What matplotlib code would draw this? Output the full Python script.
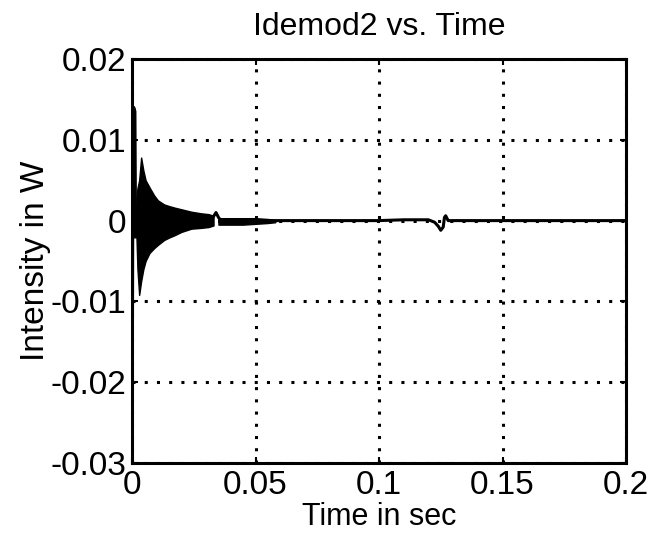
import matplotlib.pyplot as plt

# initial spike at the start of the record
spike_t = [0.0, 0.0003, 0.0006, 0.0011, 0.0013, 0.0016]
spike_v = [-0.026, 0.012, 0.0140, 0.0135, 0.002, -0.002]

# envelope of the dense decaying oscillation
env_t = [0.0018, 0.0022, 0.0029, 0.0037, 0.0046, 0.0055, 0.0071, 0.0090,
         0.0105, 0.0130, 0.0150, 0.0173, 0.0200, 0.0240, 0.0280, 0.0310, 0.0330]
env_hi = [0.0030, 0.0040, 0.0050, 0.0078, 0.0062, 0.0050, 0.0041, 0.0031,
          0.0025, 0.0020, 0.0018, 0.0016, 0.0014, 0.0011, 0.0009, 0.0008, 0.0006]
env_lo = [-0.0020, -0.0060, -0.0092, -0.0075, -0.0060, -0.0050, -0.0040, -0.0034,
          -0.0030, -0.0024, -0.0021, -0.0018, -0.0014, -0.0010, -0.0009, -0.0008, -0.0006]

# smaller band after the bump
band_t = [0.035, 0.040, 0.045, 0.050, 0.055, 0.058]
band_hi = [0.0003, 0.0003, 0.0003, 0.0003, 0.0002, 0.0001]
band_lo = [-0.0005, -0.0005, -0.0005, -0.0004, -0.0003, -0.0002]

# remaining trace
tail_t = [0.0330, 0.0340, 0.0350, 0.0360, 0.058, 0.070, 0.090, 0.100, 0.110,
          0.120, 0.1225, 0.1240, 0.1250, 0.1260, 0.1265, 0.1270, 0.1280, 0.1300,
          0.150, 0.175, 0.200]
tail_v = [0.0005, 0.0010, 0.0004, 0.0000, 0.0000, 0.0000, 0.0000, 0.0000, 0.0001,
          0.0001, -0.0002, -0.0007, -0.0012, -0.0008, 0.0004, 0.0006, 0.0000, 0.0000,
          0.0000, 0.0000, 0.0000]

plt.rcParams['font.family'] = ['Liberation Sans', 'DejaVu Sans']

fig = plt.figure(figsize=(6.56, 5.35), dpi=100)
ax = fig.add_axes([132 / 656, 1 - 463 / 535, 494 / 656, 404 / 535])

ax.fill_between(env_t, env_lo, env_hi, color='black', linewidth=1)
ax.fill_between(band_t, band_lo, band_hi, color='black', linewidth=1)
ax.plot(spike_t, spike_v, color='black', linewidth=2.5)
ax.plot(tail_t, tail_v, color='black', linewidth=2.2)

ax.set_xlim(0, 0.2)
ax.set_ylim(-0.03, 0.02)
ax.set_xticks([0, 0.05, 0.1, 0.15, 0.2])
ax.set_xticklabels(['0', '0.05', '0.1', '0.15', '0.2'])
ax.set_yticks([-0.03, -0.02, -0.01, 0, 0.01, 0.02])
ax.set_yticklabels(['-0.03', '-0.02', '-0.01', '0', '0.01', '0.02'])

ax.grid(True, color='black', linestyle=(0, (1, 3)), linewidth=2.2)
ax.tick_params(direction='in', length=4, width=1.5, labelsize=24,
               top=True, right=True)
ax.tick_params(axis='x', pad=5)
ax.tick_params(axis='y', pad=4)
for s in ax.spines.values():
    s.set_linewidth(2.2)

ax.set_title('Idemod2 vs. Time', fontsize=23, pad=17)
ax.set_xlabel('Time in sec', fontsize=22, labelpad=1)
ax.set_ylabel('Intensity in W', fontsize=24, labelpad=0)

fig.savefig('out.png', dpi=100)
